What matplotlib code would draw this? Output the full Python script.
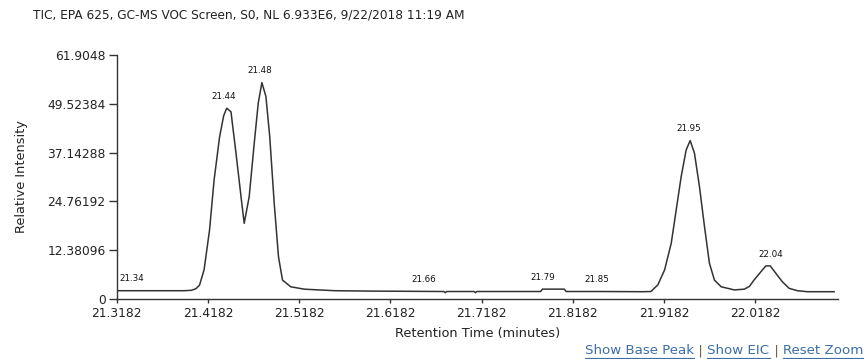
import numpy as np
import matplotlib
matplotlib.use("Agg")
import matplotlib.pyplot as plt
from matplotlib.ticker import FixedLocator, FixedFormatter

# ---- data ----
times = [21.3182, 21.340, 21.370, 21.392, 21.400, 21.405, 21.409, 21.414, 21.420,
         21.425, 21.431, 21.4355, 21.4388, 21.4435, 21.449, 21.4545, 21.458,
         21.4635, 21.469, 21.4734, 21.4774, 21.4818, 21.486, 21.4909, 21.4956,
         21.500, 21.509, 21.5237, 21.540, 21.558, 21.600, 21.640, 21.677,
         21.6785, 21.680, 21.710, 21.7116, 21.713, 21.750, 21.783, 21.785,
         21.809, 21.811, 21.850, 21.895, 21.904, 21.9116, 21.919, 21.9262,
         21.9317, 21.9371, 21.9426, 21.947, 21.9517, 21.9572, 21.9627,
         21.9681, 21.9736, 21.981, 21.9955, 22.0064, 22.012, 22.017, 22.0245,
         22.030, 22.0348, 22.041, 22.048, 22.0556, 22.0646, 22.0756, 22.1048]
intensity = [2.1, 2.1, 2.1, 2.1, 2.2, 2.6, 3.5, 7.4, 17.5,
             30.2, 41.1, 46.5, 48.4, 47.5, 37.0, 26.0, 19.2,
             26.0, 39.5, 49.7, 54.9, 51.4, 41.2, 24.3, 10.7,
             4.8, 3.1, 2.5, 2.3, 2.1, 2.0, 1.95, 1.9,
             1.6, 1.9, 1.9, 1.6, 1.9, 1.9, 1.9, 2.5,
             2.5, 1.9, 1.9, 1.85, 1.9, 3.6, 7.4, 14.1,
             22.6, 31.0, 37.8, 40.2, 37.0, 28.5, 18.4,
             9.1, 4.8, 3.1, 2.3, 2.5, 3.2, 4.8, 6.9,
             8.4, 8.4, 6.5, 4.4, 2.7, 2.1, 1.85, 1.85]

peak_labels = ["21.34", "21.44", "21.48", "21.66", "21.79", "21.85", "21.95", "22.04"]

xtick_values = [21.3182, 21.4182, 21.5182, 21.6182, 21.7182, 21.8182, 21.9182, 22.0182]
xtick_labels = ["21.3182", "21.4182", "21.5182", "21.6182", "21.7182", "21.8182", "21.9182", "22.0182"]
ytick_values = [0, 12.38096, 24.76192, 37.14288, 49.52384, 61.9048]
ytick_labels = ["0", "12.38096", "24.76192", "37.14288", "49.52384", "61.9048"]

title = "TIC, EPA 625, GC-MS VOC Screen, S0, NL 6.933E6, 9/22/2018 11:19 AM"

# ---- figure ----
W, H = 864, 359
fig = plt.figure(figsize=(W / 100, H / 100), dpi=100)
plt.rcParams['font.family'] = ['DejaVu Sans']
ax = fig.add_axes([116.7 / W, 1 - 299 / H, (838 - 116.7) / W, (299 - 55) / H])

line_color = "#333333"
ax.plot(times, intensity, color=line_color, lw=1.1, solid_joinstyle='round')

ax.set_xlim(21.3182, 21.3182 + (838 - 116.7) / 912)
ax.set_ylim(0, 61.9048)

ax.xaxis.set_major_locator(FixedLocator(xtick_values))
ax.xaxis.set_major_formatter(FixedFormatter(xtick_labels))
ax.yaxis.set_major_locator(FixedLocator(ytick_values))
ax.yaxis.set_major_formatter(FixedFormatter(ytick_labels))

for s in ("top", "right"):
    ax.spines[s].set_visible(False)
for s in ("left", "bottom"):
    ax.spines[s].set_color(line_color)
    ax.spines[s].set_linewidth(1.0)

ax.tick_params(axis='y', direction='out', length=6, width=1.0, color=line_color,
               labelsize=8.8, labelcolor="#222222", pad=2)
ax.tick_params(axis='x', direction='out', length=3, width=1.0, color=line_color,
               labelsize=8.8, labelcolor="#222222", pad=3)

ax.set_xlabel("Retention Time (minutes)", fontsize=9.3, color="#222222", labelpad=5)
ax.set_ylabel("Relative Intensity", fontsize=9.3, color="#222222", labelpad=14)

# peak labels
t_arr = np.array(times)
i_arr = np.array(intensity)
for lab in peak_labels:
    v = float(lab)
    m = (t_arr > v - 0.008) & (t_arr < v + 0.004)
    h = i_arr[m].max() if m.any() else np.interp(v, t_arr, i_arr)
    ax.annotate(lab, xy=(v, h), xytext=(-3.2, 8.5), textcoords='offset points',
                ha='center', va='center', fontsize=6.3, color="#111111",
                annotation_clip=False)

fig.text(33 / W, 1 - 15 / H, title, fontsize=8.75, color="#222222",
         ha='left', va='center')

# links at bottom right
fig.canvas.draw()
renderer = fig.canvas.get_renderer()
parts = [("Reset Zoom", True), (" | ", False), ("Show EIC", True), (" | ", False),
         ("Show Base Peak", True)]
x_right = 863
y_c = 351
for txt, is_link in parts:
    t = fig.text(x_right / W, 1 - y_c / H, txt, fontsize=9.6,
                 color="#3b6ea8" if is_link else "#7a6440",
                 ha='right', va='center')
    bb = t.get_window_extent(renderer)
    if is_link:
        fig.add_artist(plt.Line2D([bb.x0 / W, bb.x1 / W],
                                  [(H - 357.5) / H, (H - 357.5) / H],
                                  color="#3b6ea8", lw=0.8,
                                  transform=fig.transFigure))
    x_right = x_right - bb.width

fig.savefig("out.png", dpi=100)
